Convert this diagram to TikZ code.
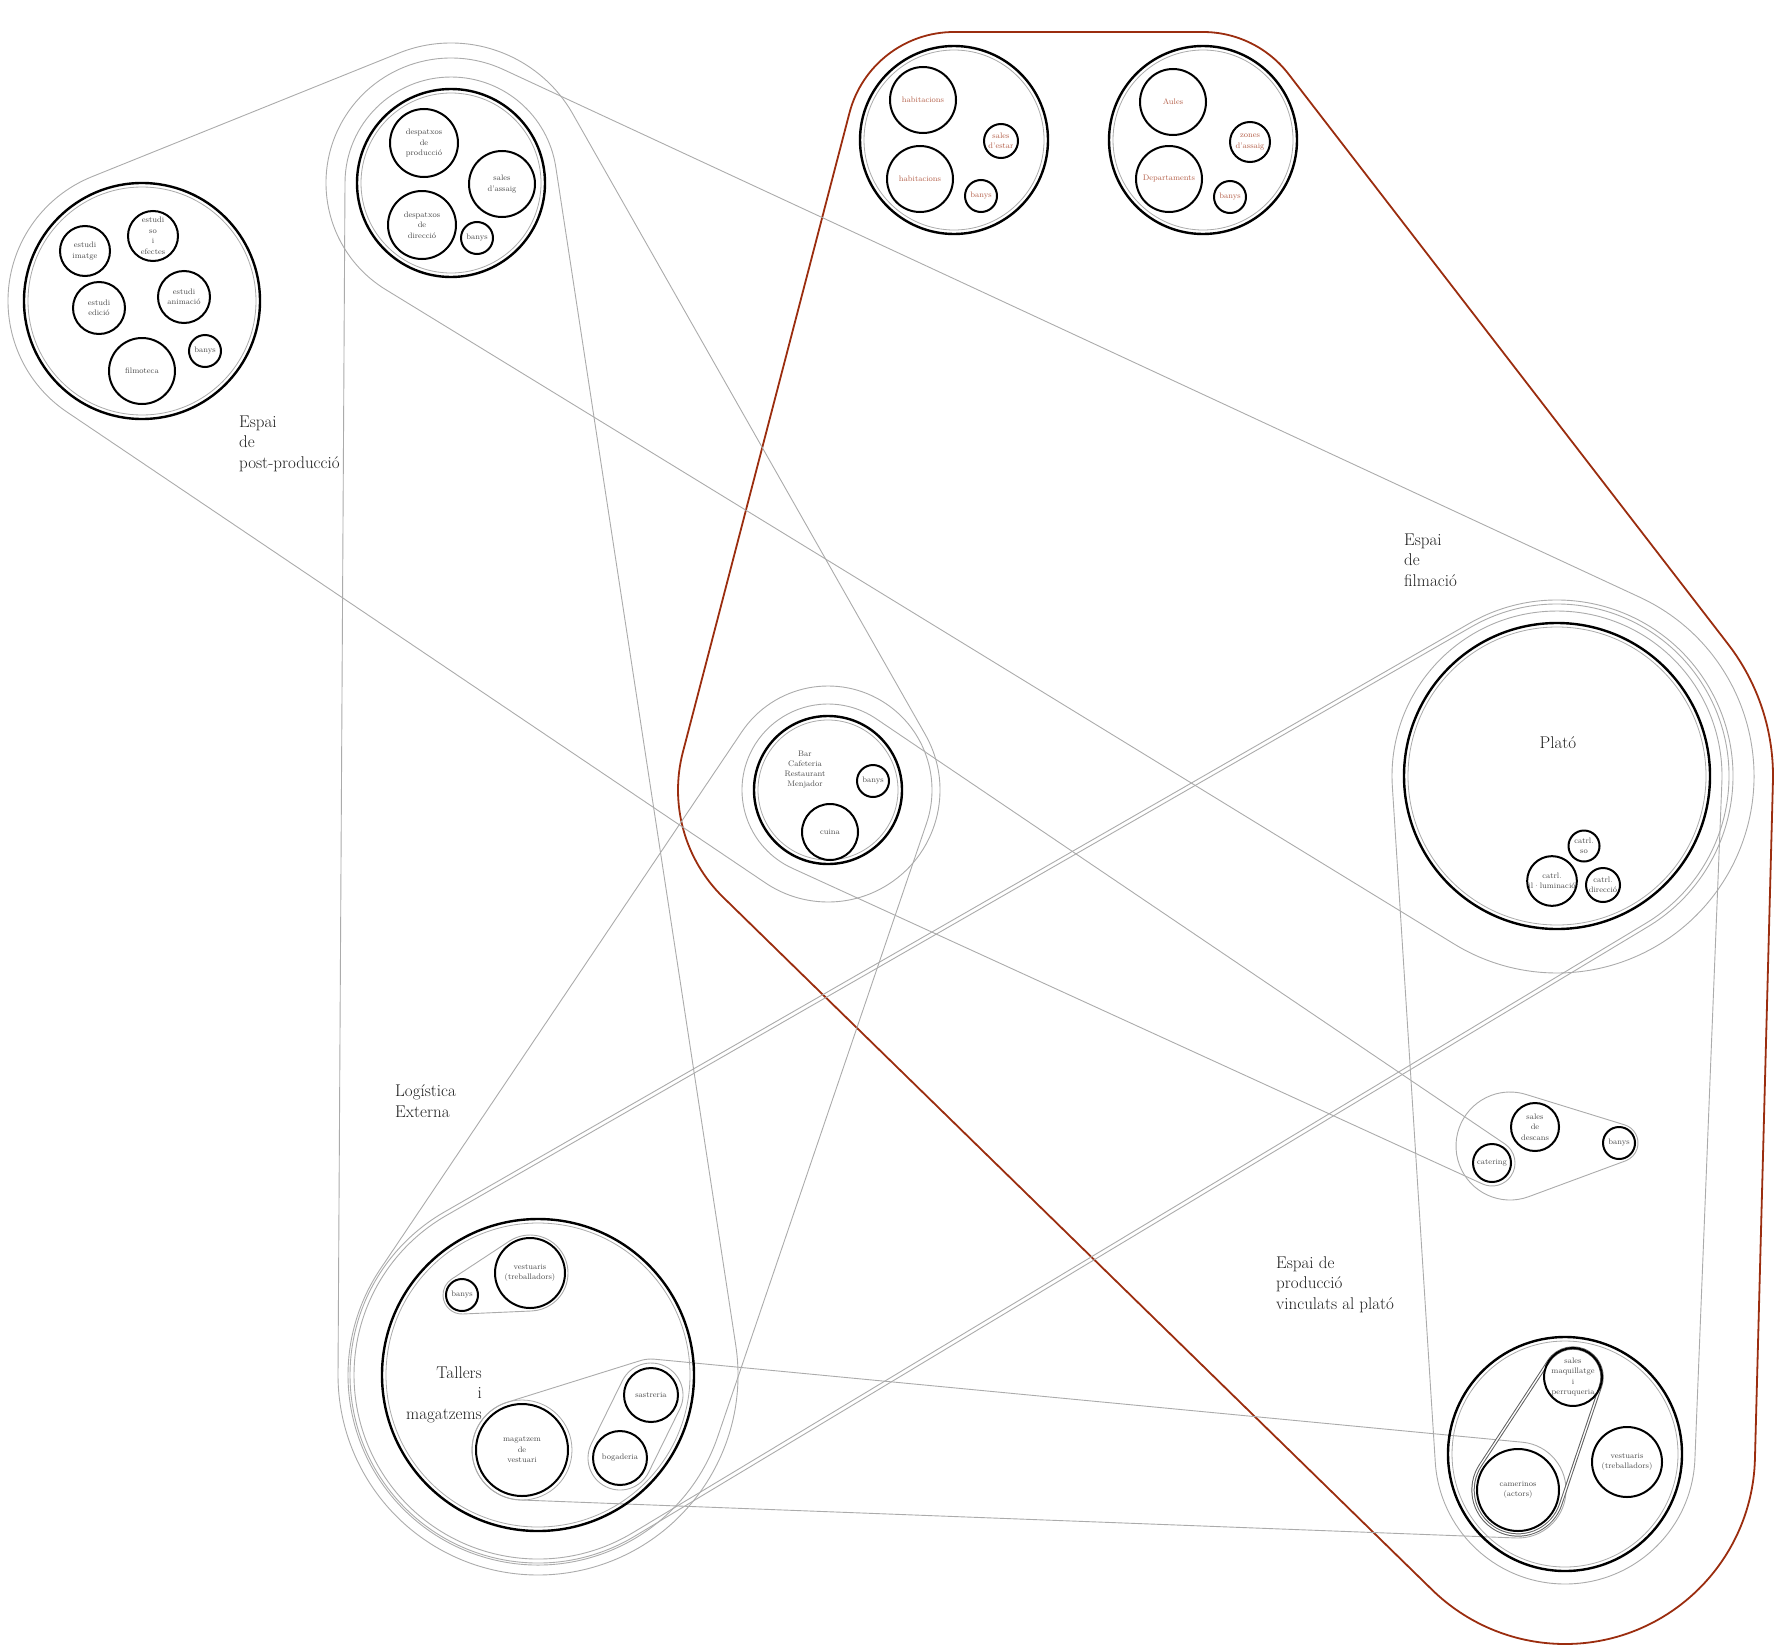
\documentclass[tikz,border=0pt]{standalone}
\usepackage{xcolor}
\usepackage{tikz}
\usetikzlibrary{calc}
\definecolor{negreTinta}{HTML}{1E1E1E}
\definecolor{grisVora}{HTML}{ABABAB}
\definecolor{grisFosc}{HTML}{606060}
\definecolor{grisText}{HTML}{4A4A4A}
\definecolor{vermellVora}{HTML}{9B2D0F}
\definecolor{vermellText}{HTML}{B4604A}

% envolupant convexa de cercles x/y/r (ordre horari a la pantalla)
\newcommand\envolupant[2]{%
  \foreach \hx/\hy/\hr [count=\hi] in {#2}{%
    \expandafter\xdef\csname envx\hi\endcsname{\hx}%
    \expandafter\xdef\csname envy\hi\endcsname{\hy}%
    \expandafter\xdef\csname envr\hi\endcsname{\hr}%
    \xdef\envN{\hi}}%
  \foreach \ei in {1,...,\envN}{%
    \pgfmathtruncatemacro\ej{mod(\ei,\envN)+1}%
    \pgfmathsetmacro\envDX{\csname envx\ej\endcsname-\csname envx\ei\endcsname}%
    \pgfmathsetmacro\envDY{\csname envy\ej\endcsname-\csname envy\ei\endcsname}%
    \pgfmathsetmacro\envL{100*veclen(\envDX/100,\envDY/100)}%
    \pgfmathsetmacro\envB{atan2(\envDY,\envDX)-acos((\csname envr\ei\endcsname-\csname envr\ej\endcsname)/\envL)}%
    \expandafter\xdef\csname envb\ei\endcsname{\envB}}%
  \pgfmathsetmacro\envSX{\csname envx1\endcsname+\csname envr1\endcsname*cos(\csname envb1\endcsname)}%
  \pgfmathsetmacro\envSY{\csname envy1\endcsname+\csname envr1\endcsname*sin(\csname envb1\endcsname)}%
  \xdef\envCami{(\envSX,\envSY)}%
  \foreach \ei in {1,...,\envN}{%
    \pgfmathtruncatemacro\ej{mod(\ei,\envN)+1}%
    \pgfmathsetmacro\envA{\csname envb\ei\endcsname}%
    \pgfmathsetmacro\envR{\csname envr\ej\endcsname}%
    \pgfmathsetmacro\envPX{\csname envx\ej\endcsname+\envR*cos(\envA)}%
    \pgfmathsetmacro\envPY{\csname envy\ej\endcsname+\envR*sin(\envA)}%
    \pgfmathsetmacro\envD{mod(mod(\csname envb\ej\endcsname-\envA,360)+360,360)}%
    \xdef\envCami{\envCami -- (\envPX,\envPY) arc[start angle=\envA,delta angle=\envD,radius=\envR]}}%
  \edef\envOrdre{\noexpand\draw[#1] \envCami -- cycle;}%
  \envOrdre}

\tikzset{
  zona/.style={circle,draw=black,line width=2.4pt,inner sep=0pt},
  sala/.style={circle,draw=black,line width=2pt,inner sep=0pt,align=center,anchor=center,
    text=grisText,font=\fontsize{8}{10.5}\selectfont},
  salaV/.style={sala,text=vermellText},
  textPetit/.style={inner sep=0pt,align=center,text=grisText,font=\fontsize{8}{10}\selectfont},
  anell/.style={draw=grisVora,line width=0.8pt},
  vora/.style={draw=grisVora,line width=0.9pt},
  voraVermella/.style={draw=vermellVora,line width=1.8pt},
  voraFosca/.style={draw=grisFosc,line width=1pt,double=white,double distance=1.3pt},
  etiqueta/.style={inner sep=0pt,text=negreTinta,font=\fontsize{17}{20.5}\selectfont},
}

\begin{document}
\begin{tikzpicture}[x=1pt,y=-1pt]
\useasboundingbox (0,0) rectangle (1774,1646);

% 1) envolupants
\envolupant{voraVermella}{954/140/108, 1203/140/108, 1557/776/216, 1565/1454/190, 828/790/150}
\envolupant{vora}{142/301/134, 451/183/140, 828/790/112}
\envolupant{vora}{451/183/125, 1557/776/197}
\envolupant{vora}{451/183/106, 538/1375/200}
\envolupant{vora}{828/790/104, 538/1375/190}
\envolupant{vora}{1557/776/172, 538/1375/184}
\envolupant{vora}{1557/776/176, 538/1375/188}
\envolupant{vora}{1557/776/165, 1565/1454/130}
\envolupant{vora}{828/790/86, 1492/1163/23}
\envolupant{vora}{1510/1146/54, 1619/1143/19}
\envolupant{vora}{462/1295/19, 530/1273/38}
\envolupant{vora}{651/1395/32, 620/1458/32}
\envolupant{vora}{522/1450/50, 651/1395/36, 1518/1490/48}
\envolupant{voraFosca}{1573/1377/29, 1518/1490/45}

% 2) Espai de post-producció
\node[zona,minimum size=236pt] (post) at (142,301) {};
\draw[anell] (post.center) circle (114);
\node[sala,minimum size=50pt] (estImatge) at (85,251) {estudi\\imatge};
\node[sala,minimum size=50pt] (estSo) at (153,236) {estudi\\so\\i\\efectes};
\node[sala,minimum size=52pt] (estEdicio) at (99,308) {estudi\\edició};
\node[sala,minimum size=52pt] (estAnim) at (184,297) {estudi\\animació};
\node[sala,minimum size=66pt] (filmoteca) at (142,371) {filmoteca};
\node[sala,minimum size=32pt] (banysPost) at (205,351) {banys};
\node[etiqueta,align=left,anchor=base west] (lPost) at (239,468) {Espai\\de\\post-producció};

% 3) despatxos
\node[zona,minimum size=188pt] (desp) at (451,183) {};
\draw[anell] (desp.center) circle (90);
\node[sala,minimum size=68pt] (despProd) at (424,143) {despatxos\\de\\producció};
\node[sala,minimum size=66pt] (salesAssaig) at (502,184) {sales\\d'assaig};
\node[sala,minimum size=68pt] (despDir) at (422,225) {despatxos\\de\\direcció};
\node[sala,minimum size=32pt] (banysDesp) at (477,238) {banys};

% 4) residència i formació
\node[zona,minimum size=188pt] (resid) at (954,140) {};
\draw[anell] (resid.center) circle (90);
\node[salaV,minimum size=66pt] (hab1) at (923,100) {habitacions};
\node[salaV,minimum size=66pt] (hab2) at (920,179) {habitacions};
\node[salaV,minimum size=34pt] (estar) at (1001,141) {sales\\d'estar};
\node[salaV,minimum size=32pt] (banysRes) at (981,196) {banys};
\node[zona,minimum size=188pt] (forma) at (1203,140) {};
\draw[anell] (forma.center) circle (90);
\node[salaV,minimum size=66pt] (aules) at (1173,102) {Aules};
\node[salaV,minimum size=66pt] (depts) at (1169,179) {Departaments};
\node[salaV,minimum size=40pt] (zonesAssaig) at (1250,142) {zones\\d'assaig};
\node[salaV,minimum size=32pt] (banysForma) at (1230,197) {banys};

% 5) bar
\node[zona,minimum size=148pt] (bar) at (828,790) {};
\draw[anell] (bar.center) circle (70);
\node[textPetit] (barText) at (805,770) {Bar\\Cafeteria\\Restaurant\\Menjador};
\node[sala,minimum size=32pt] (banysBar) at (873,781) {banys};
\node[sala,minimum size=56pt] (cuina) at (830,832) {cuina};

% 6) plató
\node[zona,minimum size=306pt] (plato) at (1557,776) {};
\draw[anell] (plato.center) circle (149);
\node[etiqueta,anchor=base] (lPlato) at (1558,748) {Plató};
\node[sala,minimum size=31pt] (ctrlSo) at (1584,846) {catrl.\\so};
\node[sala,minimum size=46pt] (ctrlLlum) at (1552,881) {catrl.\\il·luminació};
\node[sala,minimum size=34pt] (ctrlDir) at (1603,885) {catrl.\\direcció};
\node[etiqueta,align=left,anchor=base west] (lFilm) at (1404,586) {Espai\\de\\filmació};

% 7) descans
\node[sala,minimum size=48pt] (descans) at (1535,1127) {sales\\de\\descans};
\node[sala,minimum size=38pt] (catering) at (1492,1163) {catering};
\node[sala,minimum size=32pt] (banysDesc) at (1619,1143) {banys};

% 8) camerinos
\node[zona,minimum size=234pt] (camer) at (1565,1454) {};
\draw[anell] (camer.center) circle (113);
\node[sala,minimum size=50pt] (maquillatge) at (1573,1377) {sales\\maquillatge\\i\\perruqueria};
\node[sala,minimum size=82pt] (camerinos) at (1518,1490) {camerinos\\(actors)};
\node[sala,minimum size=70pt] (vestCam) at (1627,1462) {vestuaris\\(treballadors)};
\node[etiqueta,align=left,anchor=base west] (lVinc) at (1276,1309) {Espai de\\producció\\vinculats al plató};

% 9) tallers
\node[zona,minimum size=312pt] (tallers) at (538,1375) {};
\draw[anell] (tallers.center) circle (152);
\node[sala,minimum size=32pt] (banysTall) at (462,1295) {banys};
\node[sala,minimum size=70pt] (vestTall) at (530,1273) {vestuaris\\(treballadors)};
\node[sala,minimum size=54pt] (sastreria) at (651,1395) {sastreria};
\node[sala,minimum size=54pt] (bogaderia) at (620,1458) {bogaderia};
\node[sala,minimum size=92pt] (magatzem) at (522,1450) {magatzem\\de\\vestuari};
\draw[anell] (magatzem.center) circle (50);
\node[etiqueta,align=right,anchor=base east] (lTall) at (482,1419) {Tallers\\i\\magatzems};
\node[etiqueta,align=left,anchor=base west] (lLog) at (395,1117) {Logística\\Externa};
\end{tikzpicture}
\end{document}
